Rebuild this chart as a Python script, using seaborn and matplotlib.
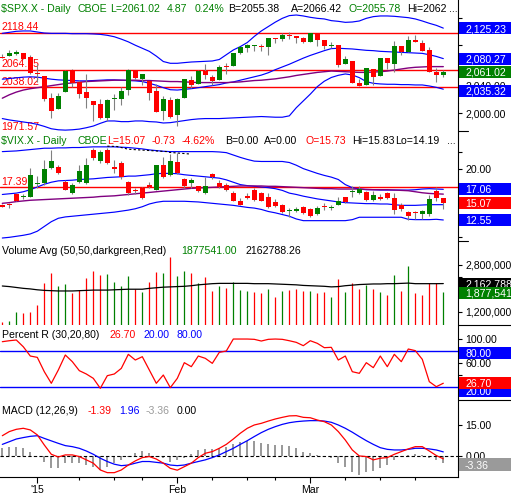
import matplotlib
matplotlib.use('Agg')
import matplotlib.pyplot as plt
from matplotlib import transforms
from matplotlib.lines import Line2D
from matplotlib.patches import Rectangle
import numpy as np
import seaborn as sns

# ---- $SPX daily candles, Dec 24 2014 .. Mar 27 2015 (64 sessions) ----
spx_open = [2083.3, 2084.3, 2087.6, 2088.5, 2082.1, 2058.9, 2054.4, 2022.2, 2005.6, 2030.6,
            2063.5, 2046.1, 2031.6, 2018.4, 2013.8, 1992.3, 2020.8, 2020.2, 2034.3, 2063.0,
            2050.4, 2047.9, 2032.3, 2002.5, 2019.4, 1996.7, 2022.7, 2048.9, 2043.5, 2062.3,
            2053.5, 2049.4, 2068.6, 2070.0, 2088.8, 2096.5, 2099.2, 2099.3, 2097.7, 2109.8,
            2109.1, 2115.3, 2113.9, 2110.9, 2105.2, 2115.8, 2107.7, 2098.5, 2100.9, 2072.3,
            2076.1, 2044.7, 2041.1, 2064.6, 2055.4, 2080.6, 2072.8, 2098.7, 2090.3, 2108.0,
            2103.9, 2093.1, 2059.9, 2055.8]
spx_high = [2087.6, 2092.7, 2093.6, 2088.5, 2085.6, 2072.4, 2054.4, 2030.3, 2029.6, 2064.1,
            2064.4, 2049.3, 2056.9, 2018.4, 2021.4, 2020.5, 2028.9, 2038.3, 2064.6, 2063.0,
            2057.6, 2047.9, 2042.5, 2024.6, 2023.3, 2021.7, 2050.3, 2054.7, 2063.6, 2072.4,
            2056.2, 2070.9, 2073.5, 2088.5, 2097.0, 2101.3, 2100.2, 2102.1, 2110.6, 2110.1,
            2117.9, 2119.6, 2113.9, 2112.7, 2117.5, 2115.8, 2107.7, 2104.3, 2100.9, 2083.5,
            2076.1, 2050.1, 2066.4, 2064.6, 2081.4, 2080.6, 2106.9, 2098.7, 2113.9, 2114.9,
            2107.6, 2097.4, 2067.2, 2062.8]
spx_low = [2081.9, 2084.3, 2085.8, 2079.5, 2057.9, 2046.0, 2017.3, 1992.4, 2005.6, 2030.6,
           2038.3, 2022.6, 2008.3, 1988.4, 1991.5, 1988.1, 2004.5, 2012.0, 2026.4, 2050.5,
           2041.0, 2019.9, 2001.5, 1989.2, 1993.4, 1980.9, 2022.7, 2036.7, 2043.5, 2050.0,
           2041.9, 2048.6, 2058.0, 2070.0, 2086.7, 2089.8, 2092.2, 2090.8, 2085.4, 2103.0,
           2105.9, 2109.9, 2103.8, 2103.8, 2104.5, 2098.3, 2094.5, 2095.2, 2067.3, 2072.2,
           2044.2, 2039.7, 2041.1, 2041.2, 2055.4, 2065.1, 2061.2, 2085.6, 2090.3, 2104.4,
           2091.5, 2061.1, 2045.5, 2053.0]
spx_close = [2081.9, 2088.8, 2090.6, 2080.4, 2058.9, 2058.2, 2020.6, 2002.6, 2025.9, 2062.1,
             2044.8, 2028.3, 2023.0, 2011.3, 1992.7, 2019.4, 2022.6, 2032.1, 2063.2, 2051.8,
             2057.1, 2029.6, 2002.2, 2021.3, 1995.0, 2020.9, 2050.0, 2041.5, 2062.5, 2055.5,
             2046.7, 2068.6, 2068.5, 2088.5, 2097.0, 2100.3, 2099.7, 2097.5, 2110.3, 2109.7,
             2115.5, 2113.9, 2110.7, 2104.5, 2117.4, 2107.8, 2098.5, 2101.0, 2071.3, 2079.4,
             2044.2, 2040.2, 2066.0, 2053.4, 2081.2, 2074.3, 2099.5, 2089.3, 2108.1, 2104.4,
             2091.5, 2061.1, 2056.2, 2061.0]
spx_upper = [2117.5, 2119.0, 2120.5, 2121.0, 2121.0, 2119.5, 2118.0, 2117.5, 2117.5, 2117.5,
             2117.0, 2117.0, 2117.0, 2116.6, 2116.0, 2114.6, 2112.5, 2109.0, 2105.0, 2100.0,
             2095.5, 2091.0, 2084.0, 2076.0, 2073.4, 2073.4, 2074.4, 2075.3, 2075.8, 2076.3,
             2076.8, 2079.0, 2086.0, 2093.0, 2098.0, 2104.0, 2113.0, 2121.0, 2127.5, 2134.0,
             2139.6, 2143.6, 2144.5, 2143.1, 2141.1, 2139.6, 2138.7, 2136.2, 2135.2, 2133.7,
             2134.2, 2135.7, 2139.6, 2142.1, 2143.1, 2143.1, 2142.6, 2141.6, 2140.6, 2138.7,
             2135.7, 2132.3, 2129.3, 2125.2]
spx_mid = [2050.0, 2051.0, 2052.0, 2053.0, 2053.5, 2053.0, 2051.5, 2050.0, 2049.0, 2048.5,
           2048.0, 2047.5, 2047.5, 2048.0, 2048.5, 2049.0, 2049.0, 2048.5, 2048.0, 2047.5,
           2046.5, 2044.0, 2041.0, 2037.5, 2034.5, 2034.0, 2035.0, 2036.0, 2037.5, 2039.0,
           2040.5, 2042.0, 2044.5, 2046.0, 2048.5, 2051.0, 2053.5, 2056.0, 2059.5, 2064.0,
           2068.0, 2072.0, 2076.5, 2081.0, 2085.0, 2088.5, 2092.0, 2095.0, 2095.5, 2095.0,
           2094.5, 2093.5, 2092.5, 2092.0, 2091.0, 2090.5, 2090.0, 2089.5, 2089.0, 2088.5,
           2088.0, 2086.0, 2083.5, 2080.3]
spx_lower = [1992.0, 1990.0, 1988.5, 1987.0, 1985.5, 1983.5, 1980.5, 1977.0, 1975.5, 1975.0,
             1975.5, 1976.5, 1978.5, 1981.0, 1985.0, 1988.5, 1988.5, 1987.5, 1987.5, 1988.5,
             1988.5, 1987.5, 1987.0, 1985.5, 1986.0, 1987.5, 1989.0, 1990.5, 1991.5, 1992.0,
             1992.0, 1992.0, 1992.5, 1993.0, 1993.5, 1994.0, 1994.5, 1995.0, 1994.5, 1994.0,
             1994.0, 1996.0, 2008.0, 2018.0, 2028.0, 2039.0, 2047.0, 2052.5, 2055.7, 2057.7,
             2056.2, 2052.3, 2046.4, 2043.9, 2043.0, 2042.5, 2042.5, 2042.0, 2042.0, 2041.5,
             2041.5, 2040.0, 2038.0, 2035.3]
spx_sma50 = [2022.0, 2027.0, 2031.0, 2034.0, 2036.0, 2037.5, 2039.0, 2040.5, 2042.0, 2043.5,
             2044.5, 2045.5, 2046.5, 2047.0, 2047.5, 2048.0, 2048.5, 2048.5, 2048.5, 2048.5,
             2048.0, 2048.0, 2047.5, 2047.0, 2046.5, 2046.5, 2046.0, 2045.5, 2045.0, 2045.0,
             2045.0, 2045.0, 2045.0, 2045.5, 2046.0, 2047.0, 2048.0, 2048.5, 2049.5, 2050.5,
             2052.0, 2053.5, 2055.5, 2057.0, 2058.5, 2060.0, 2061.0, 2062.0, 2061.5, 2061.0,
             2060.5, 2060.0, 2060.0, 2060.5, 2061.0, 2062.0, 2063.5, 2065.0, 2066.5, 2067.5,
             2068.0, 2068.5, 2068.5, 2068.5]
spx_levels = [2118.44, 2064.15, 2038.02, 1971.57]

# ---- $VIX daily candles ----
vix_open = [14.8, 14.8, 16.3, 15.95, 16.0, 17.9, 18.0, 20.2, 20.3, 18.1,
            16.5, 18.1, 18.0, 22.9, 21.2, 22.9, 20.3, 20.9, 18.1, 17.0,
            17.25, 17.65, 17.0, 20.6, 19.2, 21.1, 18.6, 18.0, 17.5, 16.5,
            19.3, 18.0, 17.65, 16.5, 15.4, 16.1, 17.0, 16.5, 15.9, 15.2,
            14.7, 13.8, 13.8, 14.4, 14.2, 13.5, 14.65, 14.25, 14.8, 15.9,
            16.6, 16.5, 16.65, 15.5, 16.0, 16.5, 15.8, 14.8, 13.7, 13.7,
            13.4, 13.4, 16.85, 15.73]
vix_high = [14.9, 15.1, 16.5, 16.3, 20.2, 19.0, 21.4, 22.9, 20.7, 18.5,
            18.0, 20.6, 21.7, 23.2, 22.9, 23.2, 21.4, 21.2, 18.3, 17.25,
            17.35, 18.2, 20.7, 21.8, 22.3, 22.4, 18.7, 18.7, 17.6, 18.8,
            19.45, 18.5, 18.0, 16.75, 15.8, 16.5, 17.25, 16.65, 16.5, 15.7,
            14.9, 14.3, 14.4, 14.55, 14.3, 14.55, 15.05, 14.7, 16.0, 16.0,
            17.5, 17.5, 16.85, 16.75, 16.3, 16.65, 16.5, 15.05, 13.9, 13.8,
            14.05, 16.25, 17.35, 15.83]
vix_low = [14.4, 14.3, 15.3, 15.7, 15.9, 17.2, 17.7, 20.0, 19.3, 16.9,
           16.4, 18.0, 17.8, 21.4, 20.9, 20.8, 19.5, 18.6, 16.2, 16.3,
           15.7, 17.25, 16.9, 18.7, 19.0, 19.3, 17.25, 17.25, 16.65, 16.3,
           18.6, 17.25, 16.85, 15.3, 14.7, 15.7, 15.4, 15.3, 14.3, 14.5,
           13.6, 12.95, 13.7, 13.45, 12.95, 13.3, 14.05, 14.05, 14.7, 15.05,
           16.0, 16.3, 15.4, 15.4, 15.5, 15.7, 13.4, 13.9, 12.6, 12.75,
           12.75, 13.2, 15.4, 14.19]
vix_close = [14.5, 14.7, 15.4, 16.05, 19.2, 18.0, 20.1, 21.2, 19.5, 17.0,
             17.75, 19.8, 20.7, 21.7, 22.5, 20.9, 20.0, 18.8, 16.5, 16.75,
             15.8, 17.35, 20.6, 18.8, 21.2, 19.5, 17.6, 18.5, 16.75, 17.5,
             18.8, 17.35, 17.0, 15.4, 14.8, 15.8, 15.5, 15.4, 14.45, 14.65,
             13.7, 14.05, 14.2, 13.6, 13.1, 14.3, 14.4, 14.35, 15.4, 15.2,
             16.85, 17.15, 15.5, 16.15, 15.7, 15.8, 14.05, 14.15, 13.1, 13.55,
             13.8, 15.7, 15.8, 15.07]
vix_upper = [22.6, 22.65, 22.7, 22.8, 22.9, 23.0, 23.1, 23.1, 23.15, 23.15,
             23.2, 23.2, 23.25, 23.3, 23.3, 23.3, 23.3, 23.25, 23.2, 23.1,
             23.0, 22.85, 22.75, 22.65, 22.6, 22.6, 22.6, 22.6, 22.6, 22.6,
             22.6, 22.55, 22.45, 22.1, 21.75, 21.45, 21.2, 21.15, 21.15, 21.15,
             21.15, 21.0, 20.6, 20.1, 19.75, 19.4, 19.1, 18.85, 18.5, 17.75,
             17.3, 17.1, 17.0, 17.0, 16.95, 16.95, 16.95, 16.95, 16.95, 17.0,
             17.1, 17.15, 17.1, 17.06]
vix_mid = [16.3, 16.4, 16.5, 16.7, 17.0, 17.4, 17.8, 18.1, 18.3, 18.35,
           18.4, 18.5, 18.55, 18.6, 18.7, 18.8, 18.85, 18.9, 19.0, 19.0,
           19.1, 19.2, 19.35, 19.4, 19.4, 19.35, 19.2, 19.1, 19.0, 18.9,
           18.8, 18.7, 18.45, 18.1, 17.75, 17.6, 17.5, 17.4, 17.3, 17.15,
           16.9, 16.5, 16.3, 16.05, 15.85, 15.65, 15.5, 15.35, 15.2, 15.1,
           15.05, 15.0, 14.95, 14.95, 14.9, 14.9, 14.8, 14.7, 14.7, 14.7,
           14.75, 14.8, 14.8, 14.8]
vix_lower = [9.9, 10.0, 10.15, 10.3, 10.5, 10.9, 11.6, 12.3, 12.8, 13.0,
             13.1, 13.2, 13.3, 13.4, 13.5, 13.6, 13.7, 13.85, 14.0, 14.2,
             14.5, 14.9, 15.15, 15.3, 15.3, 15.3, 15.3, 15.25, 15.2, 15.1,
             15.0, 14.9, 14.8, 14.7, 14.55, 14.4, 14.3, 14.1, 13.8, 13.6,
             13.35, 13.1, 12.7, 12.45, 12.45, 12.45, 12.45, 12.45, 12.45, 12.45,
             12.6, 12.95, 12.95, 12.95, 12.95, 12.95, 12.95, 12.95, 12.65, 12.6,
             12.6, 12.6, 12.65, 12.55]
vix_sma50 = [15.0, 15.1, 15.25, 15.35, 15.45, 15.5, 15.55, 15.6, 15.65, 15.7,
             15.75, 15.8, 15.85, 15.9, 16.0, 16.05, 16.1, 16.2, 16.3, 16.4,
             16.5, 16.6, 16.7, 16.8, 16.9, 17.0, 17.1, 17.2, 17.25, 17.3,
             17.35, 17.4, 17.45, 17.5, 17.55, 17.55, 17.55, 17.55, 17.5, 17.5,
             17.45, 17.4, 17.35, 17.3, 17.25, 17.2, 17.15, 17.15, 17.1, 17.1,
             17.1, 17.1, 17.05, 17.0, 17.0, 17.0, 16.95, 16.9, 16.85, 16.7,
             16.55, 16.45, 16.4, 16.35]
vix_dash_idx = [15.0, 16.4, 18.0, 23.5, 23.7, 26.8]
vix_dash_val = [23.4, 23.35, 22.95, 22.6, 22.5, 22.25]
vix_levels = [17.39]

# ---- SPX volume (millions) and its 50-day average ----
volume = [0.86, 0.89, 1.20, 1.17, 1.20, 1.43, 2.17, 2.54, 2.09, 2.16,
          1.85, 1.94, 2.37, 2.59, 2.47, 2.50, 2.23, 2.09, 2.42, 1.97,
          1.89, 2.23, 2.57, 2.54, 3.08, 2.43, 2.59, 2.51, 2.19, 2.40,
          1.92, 2.09, 2.02, 2.23, 1.94, 1.92, 1.89, 1.85, 1.98, 1.71,
          1.92, 1.94, 1.98, 1.92, 1.92, 1.83, 1.89, 1.71, 2.32, 1.89,
          2.17, 1.98, 2.11, 1.98, 1.86, 1.77, 2.46, 1.92, 2.78, 1.83,
          1.77, 2.19, 2.19, 1.878]
volume_dir = list('rggrrrrrgg' 'rrrrrggggr' 'grrgrggrgr' 'rgrgggrrgr'
                  'grrrgrrgrg' 'rrgrgrgrgr' 'rrrg')
volume_avg = [2.08, 2.06, 2.03, 2.00, 1.98, 1.95, 1.93, 1.92, 1.91, 1.91,
              1.91, 1.92, 1.93, 1.94, 1.94, 1.94, 1.95, 1.96, 1.97, 1.97,
              1.97, 2.00, 2.02, 2.04, 2.05, 2.06, 2.07, 2.09, 2.12, 2.14,
              2.16, 2.17, 2.17, 2.17, 2.17, 2.17, 2.16, 2.16, 2.16, 2.15,
              2.14, 2.13, 2.12, 2.10, 2.09, 2.08, 2.07, 2.05, 2.06, 2.09,
              2.11, 2.13, 2.14, 2.15, 2.15, 2.16, 2.16, 2.17, 2.18, 2.16,
              2.16, 2.16, 2.16, 2.163]

# ---- Percent R (30) ----
pct_r = [95.4, 97.0, 98.2, 87.0, 71.7, 69.5, 45.8, 26.6, 48.6, 73.4,
         62.4, 47.5, 42.0, 34.8, 18.3, 39.2, 42.0, 51.3, 74.5, 65.1,
         70.6, 48.6, 26.6, 40.3, 19.4, 34.8, 60.7, 54.1, 71.7, 67.9,
         59.6, 77.8, 80.0, 99.8, 99.8, 99.8, 99.3, 96.5, 99.3, 99.8,
         99.3, 97.0, 94.3, 88.8, 97.0, 92.7, 85.5, 86.1, 65.1, 71.7,
         45.8, 43.1, 60.7, 52.5, 71.7, 54.1, 74.5, 62.4, 83.3, 80.6,
         66.2, 29.3, 21.0, 26.7]

# ---- MACD (12,26,9) ----
macd_line = [9.8, 11.8, 12.9, 13.4, 12.6, 10.2, 5.3, 0.8, -0.5, 0.5,
             0.5, -0.3, -1.9, -3.5, -6.8, -8.1, -8.1, -6.8, -4.4, -2.4,
             -0.8, -0.3, -1.5, -3.5, -6.0, -6.9, -5.2, -3.5, -0.8, 1.3,
             2.1, 3.7, 5.6, 8.2, 11.0, 13.4, 15.0, 15.8, 16.9, 17.9,
             18.7, 19.4, 19.5, 18.7, 18.5, 17.4, 16.6, 15.0, 11.8, 7.7,
             2.9, 0.0, -0.3, -1.9, -1.1, -0.8, 0.8, 2.1, 3.4, 4.5,
             4.5, 2.4, 0.2, -1.39]
macd_signal = [5.6, 6.9, 8.2, 8.9, 9.5, 9.8, 8.5, 7.3, 6.1, 5.0,
               4.5, 3.7, 2.4, 0.8, -1.1, -2.7, -4.0, -4.7, -4.4, -3.5,
               -2.7, -2.7, -3.1, -3.5, -4.4, -4.7, -4.4, -3.5, -2.7, -1.9,
               -0.8, 0.5, 2.1, 3.7, 5.6, 7.4, 9.4, 11.3, 12.9, 14.2,
               15.3, 16.1, 16.6, 16.9, 17.1, 17.1, 16.9, 16.3, 15.0, 13.4,
               11.5, 9.4, 7.4, 5.6, 4.0, 3.2, 2.9, 2.9, 3.2, 3.7,
               3.7, 3.4, 2.9, 1.96]
macd_hist = [3.7, 4.5, 4.5, 4.0, 1.8, 0.0, -2.7, -5.6, -6.0, -3.5,
             -3.5, -3.5, -4.4, -5.2, -6.8, -5.2, -3.5, -1.9, -0.3, 1.3,
             2.4, 1.3, -0.3, -1.1, -2.7, -1.9, -1.1, 0.8, 2.9, 3.4,
             3.4, 4.0, 4.5, 5.6, 6.9, 7.3, 7.3, 6.1, 5.6, 5.3,
             5.3, 4.8, 3.7, 1.8, 1.3, 0.5, -0.3, -1.1, -3.5, -5.2,
             -7.9, -9.2, -7.9, -7.3, -6.0, -4.4, -1.9, -0.3, 0.5, 0.8,
             0.5, -1.1, -1.9, -3.36]

month_pos = [5, 25, 44]
month_labels = ["'15", 'Feb', 'Mar']
week_pos = [11, 16, 20, 30, 35, 39, 49, 54, 59]

FIG_W, FIG_H = 511, 495
PLOT_R = 458
FS = 7.6
GREEN, RED, BLUE, PURPLE, GREY = '#008000', '#ff0000', '#0000ff', '#800080', '#9a9a9a'
IDX = np.arange(len(spx_close))
_z = [10]


def make_axes(fig, top, bottom, ylim):
    ax = fig.add_axes([0, (FIG_H - bottom) / FIG_H, PLOT_R / FIG_W, (bottom - top) / FIG_H])
    ax.set_facecolor('white')
    for side in ['left', 'top', 'bottom']:
        ax.spines[side].set_visible(False)
    ax.spines['right'].set_color('black')
    ax.spines['right'].set_linewidth(0.8)
    ax.yaxis.tick_right()
    ax.tick_params(axis='y', which='both', right=True, left=False, length=2.9, width=0.8,
                   pad=2.5, labelsize=FS, colors='black', direction='out')
    ax.tick_params(axis='x', which='both', bottom=False, labelbottom=False)
    ax.grid(False)
    ax.set_xlim(-0.33, 65.1)
    ax.set_ylim(*ylim)
    return ax


def line(ax, values, color, lw=0.85, x=IDX, **kw):
    sns.lineplot(x=x, y=values, ax=ax, color=color, linewidth=lw, zorder=3, **kw)
    ax.set_xlabel('')
    ax.set_ylabel('')


def candles(ax, o, h, l, c, min_body):
    o, h, l, c = map(np.asarray, (o, h, l, c))
    colors = np.where(c >= o, GREEN, RED)
    ax.vlines(IDX, l, h, color='#808080', lw=0.8, zorder=4)
    ax.bar(IDX, np.maximum(np.abs(c - o), min_body), bottom=np.minimum(o, c),
           width=0.68, color=colors, linewidth=0, zorder=5)


def level_lines(fig, ax, levels):
    off = transforms.offset_copy(ax.transData, fig=fig, x=0, y=2.5, units='dots')
    for v in levels:
        ax.axhline(v, color=RED, lw=1.0, zorder=2)
        ax.text(-0.09, v, f'{v:.2f}', color=RED, fontsize=FS, va='baseline', ha='left',
                transform=off, zorder=1, clip_on=False)


def value_box(fig, ax, value, text, color, shift=0.0, h=12):
    yc = ax.transData.transform((0, value))[1] / FIG_H - shift / FIG_H
    _z[0] += 2
    fig.add_artist(Rectangle(((PLOT_R + 0.5) / FIG_W, yc - h / 2 / FIG_H), (FIG_W - PLOT_R) / FIG_W,
                             h / FIG_H, transform=fig.transFigure, facecolor=color,
                             edgecolor='none', zorder=_z[0]))
    fig.text(465 / FIG_W, yc, text, color='white', fontsize=FS, va='center_baseline',
             ha='left', zorder=_z[0] + 1)


def title_row(fig, ybase, parts):
    for x, s, c in parts:
        fig.text(x / FIG_W, 1 - ybase / FIG_H, s, color=c, fontsize=FS, va='baseline',
                 ha='left', parse_math=False, zorder=20)


def right_rule(fig, y, x1):
    fig.add_artist(Line2D([PLOT_R / FIG_W, x1 / FIG_W], [1 - y / FIG_H] * 2,
                          transform=fig.transFigure, color='black', lw=0.8))


def main():
    sns.set_theme(style='white')
    plt.rcParams['font.family'] = ['Liberation Sans', 'DejaVu Sans']
    fig = plt.figure(figsize=(FIG_W / 100, FIG_H / 100), dpi=100)
    fig.patch.set_facecolor('white')

    # SPX panel
    ax1 = make_axes(fig, 0, 131, (1973.7, 2166.6))
    level_lines(fig, ax1, spx_levels)
    line(ax1, spx_upper, BLUE)
    line(ax1, spx_mid, BLUE)
    line(ax1, spx_lower, BLUE)
    line(ax1, spx_sma50, PURPLE, lw=1.0)
    candles(ax1, spx_open, spx_high, spx_low, spx_close, 1.4)
    ax1.set_yticks([2000, 2040], labels=['2,000.00', '2,040.00'])
    ax1.set_yticks([2100, 2140], minor=True)

    # VIX panel
    ax2 = make_axes(fig, 131, 241, (9.46, 25.63))
    level_lines(fig, ax2, vix_levels)
    line(ax2, vix_upper, BLUE)
    line(ax2, vix_mid, BLUE)
    line(ax2, vix_lower, BLUE)
    line(ax2, vix_sma50, PURPLE, lw=1.0)
    line(ax2, vix_dash_val, 'black', lw=0.8, x=vix_dash_idx, linestyle=(0, (2, 2)))
    candles(ax2, vix_open, vix_high, vix_low, vix_close, 0.15)
    ax2.set_yticks([15, 20], labels=['15.00', '20.00'])
    ax2.set_yticks([10, 12.5, 17.5, 22.5], minor=True)

    # Volume panel
    ax3 = make_axes(fig, 241, 325, (0.744, 3.622))
    vcol = [GREEN if d == 'g' else RED for d in volume_dir]
    ax3.vlines(IDX, 0, volume, colors=vcol, lw=0.9, zorder=2)
    line(ax3, volume_avg, 'black', lw=0.9)
    ax3.set_yticks([1.2, 2.8], labels=['1,200,000', '2,800,000'])
    ax3.set_yticks([2.0, 2.4], minor=True)

    # Percent R panel
    ax4 = make_axes(fig, 325, 400, (-1, 123))
    ax4.axhline(80, color=BLUE, lw=1.0, zorder=2)
    ax4.axhline(20, color=BLUE, lw=1.0, zorder=2)
    line(ax4, pct_r, RED, lw=0.9)
    ax4.set_yticks([60, 100], labels=['60.00', '100.00'])
    ax4.set_yticks([40], minor=True)

    # MACD panel
    ax5 = make_axes(fig, 400, 477, (-10.2, 27.1))
    ax5.bar(IDX, macd_hist, width=0.3, color=GREY, linewidth=0, zorder=2)
    ax5.axhline(0, color='black', lw=0.8, linestyle=(0, (3, 2)), zorder=2)
    line(ax5, macd_signal, BLUE, lw=0.9)
    line(ax5, macd_line, RED, lw=0.9)
    ax5.set_yticks([0, 15], labels=['0.00', '15.00'])
    ax5.spines['bottom'].set_visible(True)
    ax5.spines['bottom'].set_color('black')
    ax5.spines['bottom'].set_linewidth(0.8)
    ax5.set_xticks(month_pos, labels=month_labels)
    ax5.set_xticks(week_pos, minor=True)
    ax5.tick_params(axis='x', which='major', bottom=True, labelbottom=True, length=4,
                    width=0.8, pad=1.5, labelsize=FS, colors='black', direction='out')
    ax5.tick_params(axis='x', which='minor', bottom=True, length=2.4, width=0.8,
                    colors='black', direction='out')

    # value boxes on the right scale
    value_box(fig, ax1, 2125.23, '2,125.23', BLUE)
    value_box(fig, ax1, 2080.27, '2,080.27', BLUE)
    value_box(fig, ax1, 2061.02, '2,061.02', GREEN)
    value_box(fig, ax1, 2035.32, '2,035.32', BLUE, shift=1.5)
    value_box(fig, ax2, 17.06, '17.06', BLUE)
    value_box(fig, ax2, 15.07, '15.07', RED)
    value_box(fig, ax2, 12.55, '12.55', BLUE)
    value_box(fig, ax3, 2.162788, '2,162,788', 'black')
    value_box(fig, ax3, 1.877541, '1,877,541', GREEN, shift=1.0)
    value_box(fig, ax4, 20, '20.00', BLUE, shift=3.5)
    value_box(fig, ax4, 80, '80.00', BLUE, shift=2.3)
    value_box(fig, ax4, 26.7, '26.70', RED)
    value_box(fig, ax5, -3.36, '-3.36', GREY, shift=1.8, h=13)

    right_rule(fig, 131, 468)
    right_rule(fig, 241, 468)
    right_rule(fig, 325, FIG_W)
    right_rule(fig, 400, FIG_W)

    # panel headers
    title_row(fig, 11.5, [(1, '$SPX.X - Daily', GREEN), (77.3, 'CBOE', GREEN),
                          (110, 'L=2061.02', GREEN), (167, '4.87', GREEN), (194.3, '0.24%', GREEN),
                          (228.3, 'B=2055.38', 'black'), (291, 'A=2066.42', 'black'),
                          (348.3, 'O=2055.78', GREEN), (407.3, 'Hi=2062', 'black'),
                          (449, '...', 'black')])
    title_row(fig, 144.5, [(1, '$VIX.X - Daily', GREEN), (77.3, 'CBOE', GREEN),
                           (107.3, 'L=15.07', RED), (151.7, '-0.73', RED), (181.7, '-4.62%', RED),
                           (225, 'B=0.00', 'black'), (264.3, 'A=0.00', 'black'),
                           (305, 'O=15.73', RED), (351.7, 'Hi=15.83', 'black'),
                           (395, 'Lo=14.19', 'black'), (447, '...', 'black')])
    title_row(fig, 254.5, [(2, 'Volume Avg (50,50,darkgreen,Red)', 'black'),
                           (181.7, '1877541.00', GREEN), (245, '2162788.26', 'black')])
    title_row(fig, 338, [(2, 'Percent R (30,20,80)', 'black'), (110, '26.70', RED),
                         (144, '20.00', BLUE), (176.7, '80.00', BLUE)])
    title_row(fig, 413.5, [(2, 'MACD (12,26,9)', 'black'), (87.3, '-1.39', RED),
                           (119.3, '1.96', BLUE), (145.7, '-3.36', GREY), (176.7, '0.00', 'black')])

    fig.savefig('out.png', dpi=100)


if __name__ == '__main__':
    main()
